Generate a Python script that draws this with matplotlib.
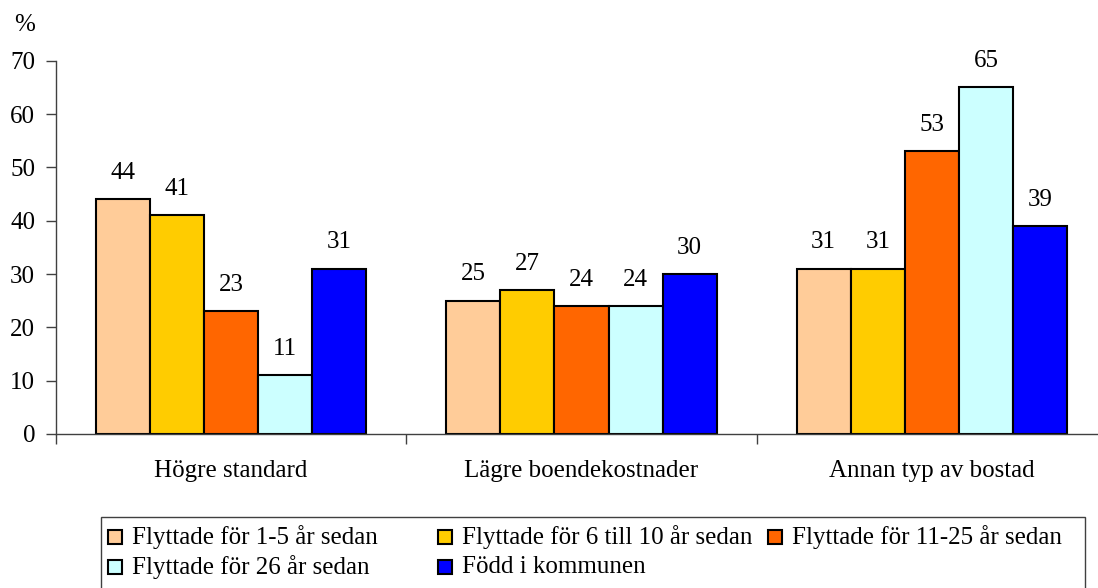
import matplotlib.pyplot as plt
from matplotlib.patches import Rectangle
import numpy as np

plt.rcParams['font.family'] = ['Liberation Serif', 'DejaVu Serif']

categories = ['Högre standard', 'Lägre boendekostnader', 'Annan typ av bostad']
series_names = ['Flyttade för 1-5 år sedan', 'Flyttade för 6 till 10 år sedan',
                'Flyttade för 11-25 år sedan', 'Flyttade för 26 år sedan',
                'Född i kommunen']
values = [
    [44, 25, 31],
    [41, 27, 31],
    [23, 24, 53],
    [11, 24, 65],
    [31, 30, 39],
]
colors = ['#FFCC99', '#FFCC00', '#FF6600', '#CCFFFF', '#0000FF']
yticks = [0, 10, 20, 30, 40, 50, 60, 70]

FS = 18
W, H = 1098, 588
fig = plt.figure(figsize=(W / 100, H / 100), dpi=100)
ax = fig.add_axes([56 / W, 1 - 434 / H, (1107 - 56) / W, (434 - 60.7) / H])

x = np.arange(len(categories))
bw = 54 / 350
for i, (name, vals, c) in enumerate(zip(series_names, values, colors)):
    offs = (i - 2) * bw
    bars = ax.bar(x + offs, vals, bw, color=c, edgecolor='black', linewidth=1.5)
    ax.bar_label(bars, padding=11, fontsize=FS)

ax.set_xlim(-0.5, 2.5)
ax.set_ylim(0, 70)
ax.set_yticks(yticks)
ax.tick_params(axis='y', labelsize=FS, length=7, width=1, color='#404040', pad=8)
ax.set_xticks(x)
ax.set_xticklabels(categories)
ax.tick_params(axis='x', which='major', length=0, labelsize=FS, pad=19)
ax.set_xticks([-0.5, 0.5, 1.5, 2.5], minor=True)
ax.tick_params(axis='x', which='minor', length=7, width=1, color='#404040')
for s in ['top', 'right']:
    ax.spines[s].set_visible(False)
for s in ['left', 'bottom']:
    ax.spines[s].set_color('#404040')
    ax.spines[s].set_linewidth(1)

fig.text(14 / W, 1 - 25 / H, '%', fontsize=FS, ha='left', va='center')

# legend drawn by hand to get Excel-like equal columns
fig.add_artist(Rectangle((101 / W, -0.1), (1085 - 101) / W, 0.1 + 1 - 517 / H,
                         transform=fig.transFigure, facecolor='white',
                         edgecolor='#404040', linewidth=1))
for i, (name, c) in enumerate(zip(series_names, colors)):
    col, row = i % 3, i // 3
    lx = 108 + col * 330
    ly = 537 + row * 30
    fig.add_artist(Rectangle((lx / W, 1 - (ly + 7) / H), 14 / W, 14 / H,
                             transform=fig.transFigure, facecolor=c,
                             edgecolor='black', linewidth=1.5))
    fig.text((lx + 24) / W, 1 - ly / H, name, fontsize=FS, ha='left', va='center')

fig.savefig('out.png', dpi=100)
